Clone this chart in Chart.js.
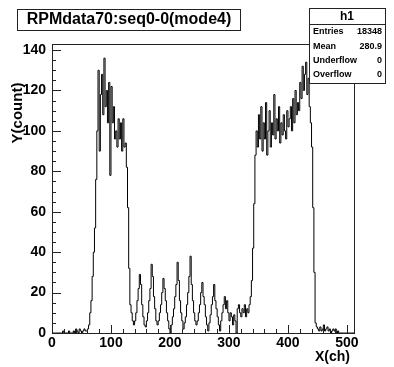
<!DOCTYPE html>
<html>
<head>
<meta charset="utf-8">
<script src="https://cdn.jsdelivr.net/npm/chart.js@4"></script>
<style>
  html, body { margin: 0; padding: 0; background: #fff; }
  #wrap { width: 394px; height: 367px; }
</style>
</head>
<body>
<div id="wrap"><canvas id="hist" width="394" height="367"></canvas></div>
<script>
// histogram h1, 2 channels per bin, 0..512 (one row = 20 channels)
const binWidth = 2;
const counts = [
  0,0,0,0,0,0,0,0,0,0,
  1,0,0,0,0,1,0,0,0,1,
  0,2,1,0,2,1,0,1,2,1,
  1,2,4,10,16,28,40,52,76,100,
  130,90,118,128,108,136,112,120,104,124,
  78,122,104,112,96,100,92,106,96,104,
  90,106,92,94,82,62,32,14,10,6,
  4,6,10,16,22,29,24,14,8,4,
  3,6,10,16,22,34,28,18,12,6,
  4,6,10,14,20,27,22,16,10,6,
  2,0,4,8,12,18,24,35,26,16,
  10,6,2,5,8,14,20,28,38,24,
  16,10,6,4,6,10,14,20,25,18,
  14,8,4,1,5,9,14,18,24,16,
  12,8,4,1,6,10,14,18,12,16,
  10,6,10,8,4,9,6,0,12,14,
  10,8,12,10,14,8,12,10,14,18,
  26,42,64,88,100,92,108,96,112,90,
  104,96,114,88,100,110,92,104,98,118,
  96,106,100,112,94,104,98,108,100,96,
  110,102,106,112,100,116,104,120,108,114,
  110,124,116,132,120,128,134,118,126,112,
  104,92,62,30,5,3,2,1,3,1,
  2,4,1,2,3,1,2,0,1,2,
  1,2,0,1,0,0,0,0,0,0,
  0,0,0,0,0,0
];
const xTicks = [0, 100, 200, 300, 400, 500];
const yTicks = [0, 20, 40, 60, 80, 100, 120, 140];
const statNames = ['Entries', 'Mean', 'Underflow', 'Overflow'];
const statValues = ['18348', '280.9', '0', '0'];

const points = counts.map((c, i) => ({x: i * binWidth, y: c}));
points.push({x: counts.length * binWidth, y: counts[counts.length - 1]});

const FONT = 'Liberation Sans, Arial, Helvetica, sans-serif';

// ROOT style frame, inner ticks, titles and stats box
const rootDecor = {
  id: 'rootDecor',
  afterDraw(chart) {
    const c = chart.ctx;
    const a = chart.chartArea;
    const xs = chart.scales.x, ys = chart.scales.y;
    c.save();
    c.strokeStyle = '#222';
    c.lineWidth = 1;
    c.strokeRect(a.left + 0.5, a.top + 0.5, a.right - a.left, a.bottom - a.top);

    c.beginPath();
    for (let v = 0; v <= 512; v += 20) {
      const px = Math.round(xs.getPixelForValue(v)) + 0.5;
      const len = v % 100 === 0 ? 8 : 4;
      c.moveTo(px, a.bottom);
      c.lineTo(px, a.bottom - len);
    }
    for (let v = 0; v <= 143; v += 5) {
      const py = Math.round(ys.getPixelForValue(v)) + 0.5;
      const len = v % 20 === 0 ? 9 : 4;
      c.moveTo(a.left, py);
      c.lineTo(a.left + len, py);
    }
    c.stroke();

    // axis titles
    c.fillStyle = '#000';
    c.font = 'bold 14px ' + FONT;
    c.textAlign = 'right';
    c.textBaseline = 'middle';
    c.fillText('X(ch)', 350, 357);
    c.save();
    c.translate(18, 113);
    c.rotate(-Math.PI / 2);
    c.textAlign = 'center';
    c.font = 'bold 15px ' + FONT;
    c.fillText('Y(count)', 0, 0);
    c.restore();

    // title box
    c.fillStyle = '#fff';
    c.fillRect(17, 9, 223, 21);
    c.strokeRect(17.5, 9.5, 223, 21);
    c.fillStyle = '#000';
    c.font = 'bold 16px ' + FONT;
    c.textAlign = 'center';
    c.fillText('RPMdata70:seq0-0(mode4)', 129, 20);

    // stats box
    const bx = 309, by = 8, bw = 76, bh = 75;
    c.fillStyle = '#fff';
    c.fillRect(bx, by, bw, bh);
    c.strokeRect(bx + 0.5, by + 0.5, bw, bh);
    c.beginPath();
    c.moveTo(bx, by + 16.5);
    c.lineTo(bx + bw, by + 16.5);
    c.stroke();
    c.fillStyle = '#000';
    c.font = 'bold 12px ' + FONT;
    c.textAlign = 'center';
    c.fillText('h1', bx + bw / 2, by + 9);
    c.font = 'bold 9px ' + FONT;
    statNames.forEach((n, i) => {
      const ty = 32 + i * 14.3;
      c.textAlign = 'left';
      c.fillText(n, bx + 4, ty);
      c.textAlign = 'right';
      c.fillText(statValues[i], bx + bw - 3, ty);
    });
    c.restore();
  }
};

new Chart(document.getElementById('hist'), {
  type: 'line',
  data: {
    datasets: [{
      data: points,
      stepped: 'after',
      borderColor: '#000',
      borderWidth: 1,
      pointRadius: 0,
      fill: false
    }]
  },
  options: {
    responsive: false,
    animation: false,
    layout: { padding: { left: 0, top: 44, right: 40, bottom: 0 } },
    plugins: {
      legend: { display: false },
      tooltip: { enabled: false }
    },
    scales: {
      x: {
        type: 'linear',
        min: 0,
        max: 512,
        afterBuildTicks: s => { s.ticks = xTicks.map(v => ({value: v})); },
        afterFit: s => { s.height = 34; },
        border: { display: false },
        grid: { display: false, drawTicks: false },
        ticks: {
          padding: 2,
          color: '#000',
          maxRotation: 0,
          autoSkip: false,
          font: { family: FONT, weight: 'bold', size: 14 }
        }
      },
      y: {
        min: 0,
        max: 143,
        afterBuildTicks: s => { s.ticks = yTicks.map(v => ({value: v})); },
        afterFit: s => { s.width = 52; },
        border: { display: false },
        grid: { display: false, drawTicks: false },
        ticks: {
          padding: 6,
          color: '#000',
          autoSkip: false,
          font: { family: FONT, weight: 'bold', size: 14 }
        }
      }
    }
  },
  plugins: [rootDecor]
});
</script>
</body>
</html>
